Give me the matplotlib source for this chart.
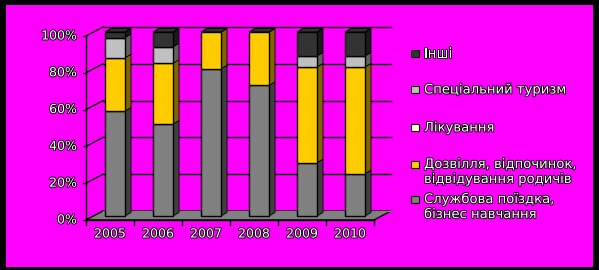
import matplotlib
matplotlib.use("Agg")
import matplotlib.pyplot as plt
from matplotlib.patches import Polygon, Rectangle
import matplotlib.patheffects as pe
import numpy as np

years = ["2005", "2006", "2007", "2008", "2009", "2010"]
business = [57, 50, 80, 71, 29, 23]
leisure = [29, 33, 20, 29, 52, 58]
treatment = [0, 0, 0, 0, 0, 0]
special = [11, 9, 0, 0, 6, 6]
other = [3, 8, 0, 0, 13, 13]
series_names = ["Службова поїздка,\nбізнес навчання",
                "Дозвілля, відпочинок,\nвідвідування родичів",
                "Лікування",
                "Спеціальний туризм",
                "Інші"]
y_ticks = [0, 20, 40, 60, 80, 100]
y_tick_labels = ["0%", "20%", "40%", "60%", "80%", "100%"]

series = [business, leisure, treatment, special, other]
front_colors = ["#808080", "#ffcc00", "#ffffcc", "#c0c0c0", "#333333"]
side_colors = ["#404040", "#806600", "#808066", "#606060", "#1a1a1a"]
top_color = "#333333"

W, H = 599, 270
fig = plt.figure(figsize=(W / 100, H / 100), dpi=100)
fig.patch.set_facecolor("black")
fig.patches.append(Rectangle((6 / W, 3 / H), 587 / W, 262 / H,
                             transform=fig.transFigure, facecolor="#ff00ff",
                             edgecolor="none", zorder=-10))

ax = fig.add_axes([0, 0, 1, 1])
ax.set_axis_off()
ax.patch.set_alpha(0)
# pixel mapping of bar plane: x_pix = 115 + 48*i ; y_pix(from top) = 216 - 1.84*v
PX_X = 48.0
PX_Y = 1.84
X0 = 115.0
Y0 = 216.0
ax.set_xlim((0 - X0) / PX_X, (W - X0) / PX_X)
ax.set_ylim((Y0 - H) / PX_Y, Y0 / PX_Y)


def dx(px):
    return px / PX_X


def dy(px):  # px upward
    return px / PX_Y


n = len(years)
xs = np.arange(n)
lo, hi = -0.5, n - 0.5
# front plane offset (-5, down 4), back plane offset (+12, up 5)
fx, fy = dx(-5), dy(-4)
bx, by = dx(12), dy(5)

lw = 1.0
# back wall gridlines
for v in y_ticks:
    ax.plot([lo + bx, hi + bx], [v + by, v + by], color="black", lw=lw, zorder=1)
    # left wall slanted lines
    ax.plot([lo + fx, lo + bx], [v + fy, v + by], color="black", lw=lw, zorder=1)

# floor
floor = Polygon([(lo + fx, fy), (hi + fx, fy), (hi + bx, by), (lo + bx, by)],
                closed=True, facecolor="#808080", edgecolor="black", lw=lw, zorder=2)
ax.add_patch(floor)
ax.plot([lo + bx, hi + bx], [by, by], color="#808080", lw=lw, zorder=2.1)

# bars
bw = 20 / PX_X
sdx, sdy = dx(6), dy(3.5)
bottom = np.zeros(n)
for k, vals in enumerate(series):
    vals = np.array(vals, dtype=float)
    mask = vals > 0
    ax.bar(xs[mask], vals[mask], bottom=bottom[mask], width=bw,
           color=front_colors[k], edgecolor="black", lw=lw, zorder=5)
    for i in range(n):
        if vals[i] <= 0:
            continue
        xr = xs[i] + bw / 2
        b, t = bottom[i], bottom[i] + vals[i]
        ax.add_patch(Polygon([(xr, b), (xr + sdx, b + sdy), (xr + sdx, t + sdy), (xr, t)],
                             closed=True, facecolor=side_colors[k],
                             edgecolor="black", lw=0.6, zorder=4))
    bottom = bottom + vals

for i in range(n):
    xl, xr = xs[i] - bw / 2, xs[i] + bw / 2
    t = bottom[i]
    ax.add_patch(Polygon([(xl, t), (xl + sdx, t + sdy), (xr + sdx, t + sdy), (xr, t)],
                         closed=True, facecolor=top_color, edgecolor="black",
                         lw=0.8, zorder=6))

# axes lines (front plane)
ax.plot([lo + fx, lo + fx], [fy, 100 + fy], color="black", lw=lw, zorder=7)
ax.plot([lo + fx, hi + fx], [fy, fy], color="black", lw=lw, zorder=7)
for v in y_ticks:
    ax.plot([lo + fx - dx(3), lo + fx], [v + fy, v + fy], color="black", lw=lw, zorder=7)
for k in range(n + 1):
    xb = lo + k + fx
    ax.plot([xb, xb], [fy, fy - dy(5)], color="black", lw=lw, zorder=7)

txt_fx = [pe.withStroke(linewidth=1.3, foreground="black")]
fs = 9
for v, lab in zip(y_ticks, y_tick_labels):
    ax.text(lo + fx - dx(9), v + fy, lab, ha="right", va="center", fontsize=fs,
            color="white", path_effects=txt_fx, zorder=8)
for i, yr in enumerate(years):
    ax.text(xs[i] + fx, dy(216 - 234), yr, ha="center", va="center", fontsize=fs,
            color="white", path_effects=txt_fx, zorder=8)

# legend (top entry first)
leg_y = [54, 90, 128, 165, 200]
order = [4, 3, 2, 1, 0]
for yy, k in zip(leg_y, order):
    sx0 = (411 - X0) / PX_X
    sy0 = (Y0 - (yy + 3)) / PX_Y
    ax.add_patch(Rectangle((sx0 + dx(1), sy0 - dy(1)), dx(8), dy(7), facecolor="#222222",
                           edgecolor="none", zorder=7))
    ax.add_patch(Rectangle((sx0, sy0), dx(8), dy(7), facecolor=front_colors[k],
                           edgecolor="black", lw=0.8, zorder=8))
    two = "\n" in series_names[k]
    ty = yy - 7 if two else yy
    ax.text((424 - X0) / PX_X, (Y0 - ty) / PX_Y, series_names[k], ha="left",
            va="top" if two else "center", fontsize=fs + 0.5, color="white",
            path_effects=txt_fx, linespacing=1.2, zorder=8)

fig.savefig("out.png", dpi=100, facecolor=fig.get_facecolor())
